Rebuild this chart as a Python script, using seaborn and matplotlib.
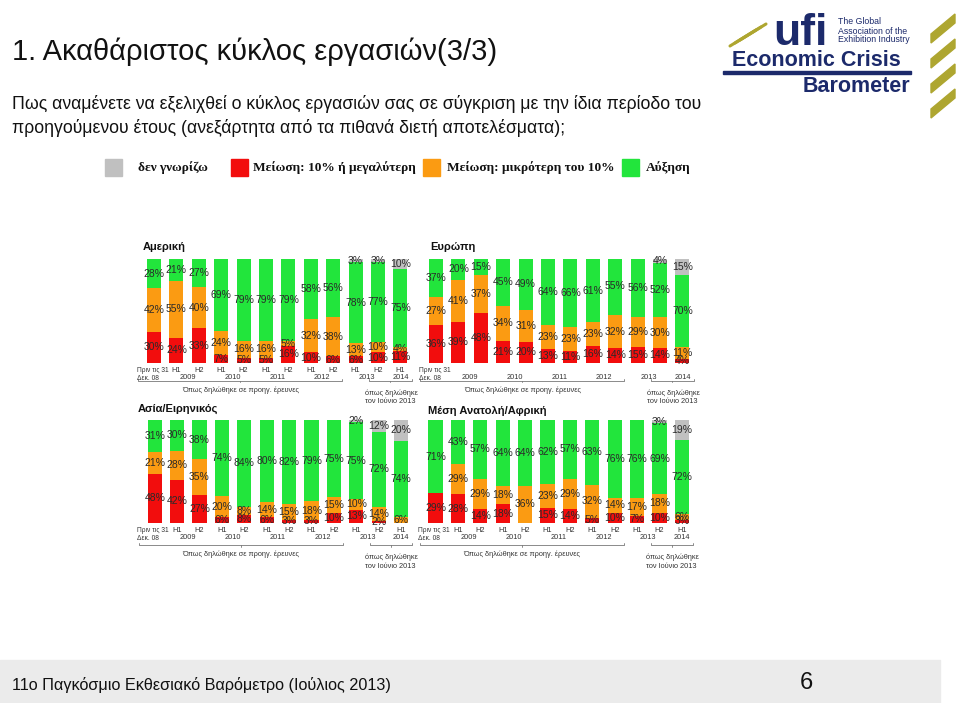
import numpy as np
import pandas as pd
import matplotlib
matplotlib.use('Agg')
import matplotlib.pyplot as plt
import seaborn as sns
from matplotlib.patches import Rectangle, Polygon
from matplotlib.lines import Line2D

# Περίοδοι (12 στήλες σε κάθε διάγραμμα)
periods = ['Dec08', '2009H1', '2009H2', '2010H1', '2010H2', '2011H1', '2011H2',
           '2012H1', '2012H2', '2013H1', '2013H2', '2014H1']
half_labels = ['', 'H1', 'H2', 'H1', 'H2', 'H1', 'H2', 'H1', 'H2', 'H1', 'H2', 'H1']
year_labels = ['2009', '2010', '2011', '2012', '2013', '2014']
year_pos = [1.5, 3.5, 5.5, 7.5, 9.5, 11]

# Αμερική
am_red    = [30, 24, 33, 7, 5, 5, 16, 10, 6, 6, 10, 11]
am_orange = [42, 55, 40, 24, 16, 16, 5, 32, 38, 13, 10, 4]
am_green  = [28, 21, 27, 69, 79, 79, 79, 58, 56, 78, 77, 75]
am_grey   = [0, 0, 0, 0, 0, 0, 0, 0, 0, 3, 3, 10]

# Ευρώπη
eu_red    = [36, 39, 48, 21, 20, 13, 11, 16, 14, 15, 14, 4]
eu_orange = [27, 41, 37, 34, 31, 23, 23, 23, 32, 29, 30, 11]
eu_green  = [37, 20, 15, 45, 49, 64, 66, 61, 55, 56, 52, 70]
eu_grey   = [0, 0, 0, 0, 0, 0, 0, 0, 0, 0, 4, 15]

# Ασία/Ειρηνικός
ap_red    = [48, 42, 27, 6, 8, 6, 3, 3, 10, 13, 2, 0]
ap_orange = [21, 28, 35, 20, 8, 14, 15, 18, 15, 10, 14, 6]
ap_green  = [31, 30, 38, 74, 84, 80, 82, 79, 75, 75, 72, 74]
ap_grey   = [0, 0, 0, 0, 0, 0, 0, 0, 0, 2, 12, 20]

# Μέση Ανατολή/Αφρική
me_red    = [29, 28, 14, 18, 0, 15, 14, 5, 10, 7, 10, 3]
me_orange = [0, 29, 29, 18, 36, 23, 29, 32, 14, 17, 18, 6]
me_green  = [71, 43, 57, 64, 64, 62, 57, 63, 76, 76, 69, 72]
me_grey   = [0, 0, 0, 0, 0, 0, 0, 0, 0, 0, 3, 19]

RED = '#f20d0d'
ORANGE = '#fb9b12'
GREEN = '#22e53c'
GREY = '#c0c0c0'
NAVY = '#1c2a6b'
OLIVE = '#aea630'

sns.set_theme(style='white')
plt.rcParams['font.family'] = ['Liberation Sans', 'DejaVu Sans']

W, H = 960, 703
fig = plt.figure(figsize=(W / 100, H / 100), dpi=100)


def fx(px):
    return px / W


def fy(py):
    return 1 - py / H


def draw_panel(rect, title, tpos, red, orange, green, grey, halves, offs):
    left, top, right, bottom = rect
    ax = fig.add_axes([fx(left), fy(bottom), fx(right - left), (bottom - top) / H])
    df = pd.DataFrame({'period': periods, 'red': red, 'orange': orange,
                       'green': green, 'grey': grey})
    df['c1'] = df['red']
    df['c2'] = df['c1'] + df['orange']
    df['c3'] = df['c2'] + df['green']
    df['c4'] = df['c3'] + df['grey']
    # στοίβες: πρώτα το σύνολο, μετά τα μικρότερα αθροίσματα από πάνω
    for col, color in [('c4', GREY), ('c3', GREEN), ('c2', ORANGE), ('c1', RED)]:
        sns.barplot(data=df, x='period', y=col, order=periods, color=color,
                    saturation=1, width=0.63, edgecolor='none', ax=ax)
    ax.set_xlim(-0.5, 11.5)
    ax.set_ylim(0, 100)
    ax.axis('off')

    # ετικέτες τιμών
    for i in range(len(periods)):
        base = 0
        for v in (red[i], orange[i], green[i], grey[i]):
            if v > 0:
                ax.text(i, base + v / 2, f'{v}%', ha='center', va='center',
                        fontsize=7.5, color='#2a2a2a')
            base += v

    fig.text(fx(tpos[0]), fy(tpos[1]), title, fontsize=8, fontweight='bold',
             color='#111111', va='center')

    o_half, o_year, o_br, o_txt = offs
    ax.text(-0.78, o_half, 'Πριν τις 31\nΔεκ. 08', ha='left', va='top',
            fontsize=4.8, color='#333333', linespacing=1.2)
    if halves:
        for i, lab in enumerate(half_labels):
            if lab:
                ax.text(i, o_half, lab, ha='center', va='top', fontsize=5.3,
                        color='#333333')
    for xp, lab in zip(year_pos, year_labels):
        ax.text(xp, o_year, lab, ha='center', va='top', fontsize=5.3, color='#333333')

    # αγκύλες
    for x0, x1 in [(-0.7, 8.4), (9.6, 11.5)]:
        xm = (x0 + x1) / 2
        ax.add_line(Line2D([x0, x0, x1, x1], [o_br + 2, o_br, o_br, o_br + 2],
                           color='#777777', lw=0.6, clip_on=False))
        ax.add_line(Line2D([xm, xm], [o_br, o_br - 1.5], color='#777777', lw=0.6,
                           clip_on=False))
    ax.text(3.85, o_txt, 'Όπως δηλώθηκε σε προηγ. έρευνες', ha='center', va='top',
            fontsize=5.3, color='#333333')
    ax.text(9.4, o_txt - 3, 'όπως δηλώθηκε\nτον Ιούνιο 2013', ha='left', va='top',
            fontsize=5.3, color='#333333', linespacing=1.25)
    return ax


top_offs = (-4, -10.5, -17.5, -23)
bot_offs = (-4, -11, -21.5, -27)
draw_panel((142.8, 259, 411.6, 362.7), 'Αμερική', (143, 247),
           am_red, am_orange, am_green, am_grey, True, top_offs)
draw_panel((424.8, 259, 693.6, 362.7), 'Ευρώπη', (430, 247),
           eu_red, eu_orange, eu_green, eu_grey, False, top_offs)
draw_panel((143.5, 420, 412.3, 523), 'Ασία/Ειρηνικός', (138, 409),
           ap_red, ap_orange, ap_green, ap_grey, True, bot_offs)
draw_panel((424.3, 420, 693.1, 523), 'Μέση Ανατολή/Αφρική', (428, 411),
           me_red, me_orange, me_green, me_grey, True, bot_offs)

# τίτλοι
fig.text(fx(12), fy(52), '1. Ακαθάριστος κύκλος εργασιών(3/3)', fontsize=21,
         color='#111111', va='center')
fig.text(fx(12), fy(104), 'Πως αναμένετε να εξελιχθεί ο κύκλος εργασιών σας σε σύγκριση με την ίδια περίοδο του',
         fontsize=12.7, color='#111111', va='center')
fig.text(fx(12), fy(128), 'προηγούμενου έτους (ανεξάρτητα από τα πιθανά διετή αποτελέσματα);',
         fontsize=12.7, color='#111111', va='center')

# υπόμνημα
legend_items = [(105, GREY, 138, 'δεν γνωρίζω'),
                (231, RED, 253, 'Μείωση: 10% ή μεγαλύτερη'),
                (423, ORANGE, 447, 'Μείωση: μικρότερη του 10%'),
                (622, GREEN, 646, 'Αύξηση')]
for sx, col, tx, lab in legend_items:
    fig.patches.append(Rectangle((fx(sx), fy(176)), fx(17), 17 / H, color=col,
                                 transform=fig.transFigure, figure=fig))
    fig.text(fx(tx), fy(167.5), lab, fontsize=9.6, fontweight='bold',
             family=['Liberation Serif', 'DejaVu Serif'], color='#111111', va='center')

# λογότυπο
for k in range(3):
    fig.lines.append(Line2D([fx(730 + 5 * k), fx(756 + 5 * k)],
                            [fy(46 - 3 * k), fy(30 - 3 * k)], color=OLIVE, lw=2.2,
                            transform=fig.transFigure, figure=fig))
fig.text(fx(800), fy(45), 'ufi', fontsize=32, fontweight='bold', color=NAVY,
         ha='center', va='baseline')
fig.text(fx(838), fy(31), 'The Global\nAssociation of the\nExhibition Industry',
         fontsize=6.3, color=NAVY, va='center', linespacing=1.0)
fig.text(fx(816), fy(66), 'Economic Crisis', fontsize=15.5, fontweight='bold',
         color=NAVY, ha='center', va='baseline')
fig.patches.append(Rectangle((fx(723), fy(74)), fx(188), 3.2 / H, color=NAVY,
                             transform=fig.transFigure, figure=fig))
fig.text(fx(910), fy(92), 'Barometer', fontsize=15.5, fontweight='bold',
         color=NAVY, ha='right', va='baseline')
for k in range(4):
    y0 = 14 + 25 * k
    pts = [(fx(931), fy(y0 + 20)), (fx(955), fy(y0)), (fx(955), fy(y0 + 9)),
           (fx(931), fy(y0 + 29))]
    fig.patches.append(Polygon(pts, closed=True, color=OLIVE,
                               transform=fig.transFigure, figure=fig))

# υποσέλιδο
fig.patches.append(Rectangle((0, fy(703)), fx(940), 43 / H, color='#ebebeb',
                             transform=fig.transFigure, figure=fig, zorder=0))
fig.text(fx(12), fy(685), '11ο Παγκόσμιο Εκθεσιακό Βαρόμετρο (Ιούλιος 2013)',
         fontsize=11.7, color='#111111', va='center')
fig.text(fx(806), fy(683), '6', fontsize=17, color='#111111', ha='center', va='center')

fig.savefig('out.png', dpi=100)
